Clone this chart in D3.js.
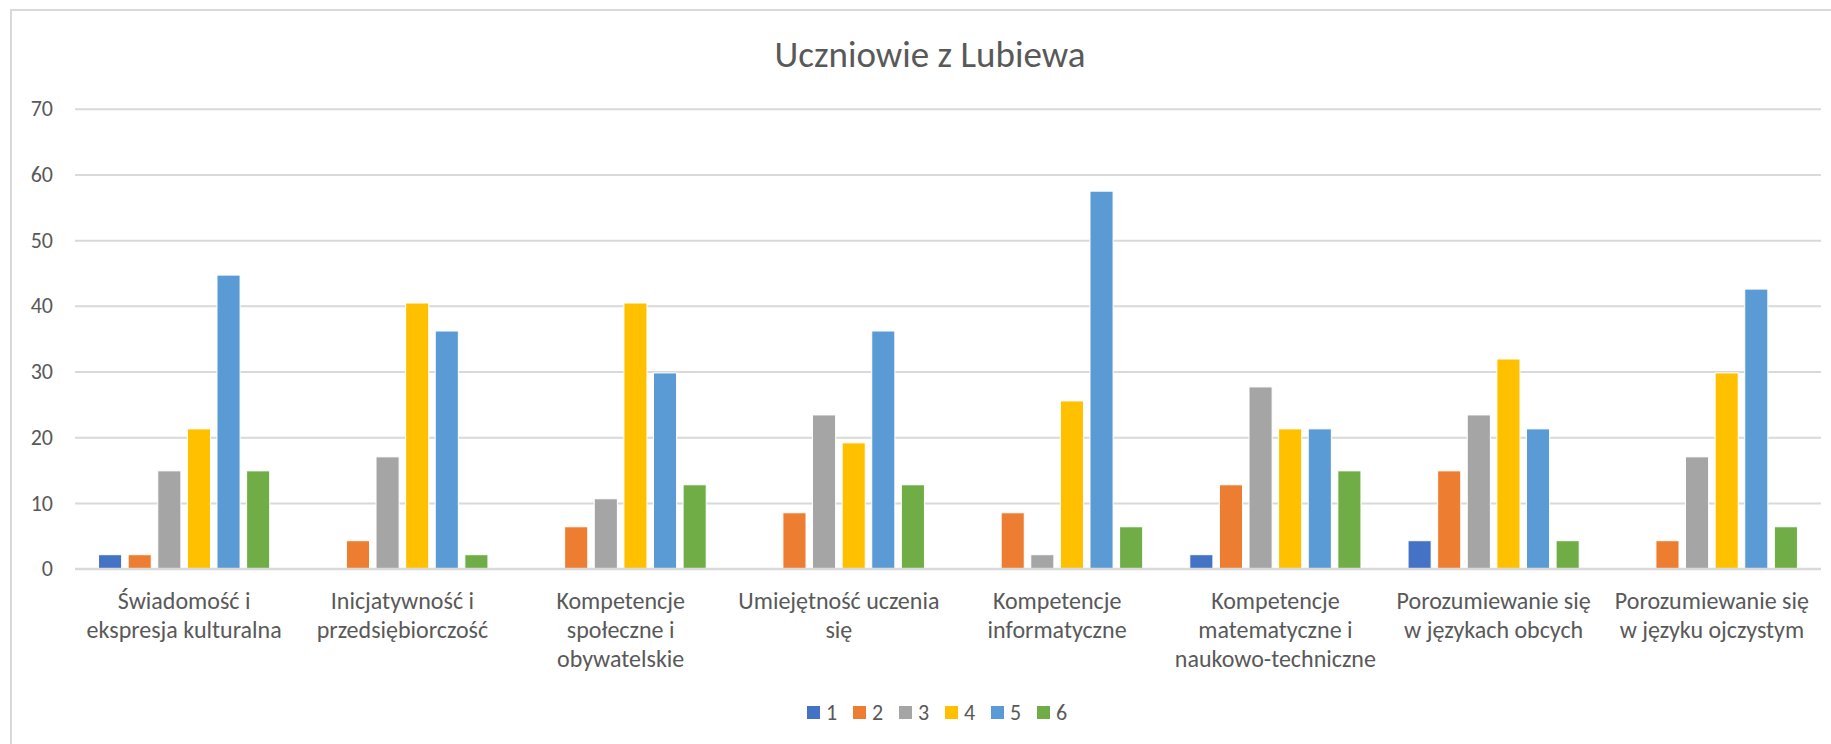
<!DOCTYPE html>
<html>
<head>
<meta charset="utf-8">
<script src="https://cdn.jsdelivr.net/npm/d3@7/dist/d3.min.js"></script>
<style>
  html, body { margin: 0; padding: 0; background: #ffffff; }
  svg { display: block; }
  text { font-family: Carlito, Lato, "Open Sans", sans-serif; fill: #595959; }
</style>
</head>
<body>
<svg id="chart" width="1831" height="744"></svg>
<script>
// ---- data ----
const title = "Uczniowie z Lubiewa";
const categoryLines = [
  ["Świadomość i", "ekspresja kulturalna"],
  ["Inicjatywność i", "przedsiębiorczość"],
  ["Kompetencje", "społeczne i", "obywatelskie"],
  ["Umiejętność uczenia", "się"],
  ["Kompetencje", "informatyczne"],
  ["Kompetencje", "matematyczne i", "naukowo-techniczne"],
  ["Porozumiewanie się", "w językach obcych"],
  ["Porozumiewanie się", "w języku ojczystym"]
];
const categories = categoryLines.map(l => l.join(" "));
const seriesNames = ["1", "2", "3", "4", "5", "6"];
const seriesColors = ["#4472C4", "#ED7D31", "#A5A5A5", "#FFC000", "#5B9BD5", "#70AD47"];
const s1 = [2.13, 0, 0, 0, 0, 2.13, 4.26, 0];
const s2 = [2.13, 4.26, 6.38, 8.51, 8.51, 12.77, 14.89, 4.26];
const s3 = [14.89, 17.02, 10.64, 23.40, 2.13, 27.66, 23.40, 17.02];
const s4 = [21.28, 40.43, 40.43, 19.15, 25.53, 21.28, 31.91, 29.79];
const s5 = [44.68, 36.17, 29.79, 36.17, 57.45, 21.28, 21.28, 42.55];
const s6 = [14.89, 2.13, 12.77, 12.77, 6.38, 14.89, 4.26, 6.38];
const seriesValues = [s1, s2, s3, s4, s5, s6];
const yTicks = [0, 10, 20, 30, 40, 50, 60, 70];

// ---- layout ----
const svg = d3.select("#chart");
const W = 1831, H = 744;
const plot = { left: 75, right: 1821, top: 108.7, bottom: 568.7 };

svg.append("rect").attr("x", 0).attr("y", 0).attr("width", W).attr("height", H).attr("fill", "#fff");
// chart area border (right/bottom edges fall outside the frame)
svg.append("rect")
  .attr("x", 11).attr("y", 10).attr("width", W + 20).attr("height", H + 20)
  .attr("fill", "none").attr("stroke", "#d9d9d9").attr("stroke-width", 2);

// title
svg.append("text")
  .attr("x", 930).attr("y", 67)
  .attr("text-anchor", "middle")
  .style("font-size", "37px")
  .style("font-weight", "300")
  .text(title);

// scales
const y = d3.scaleLinear().domain([0, 70]).range([plot.bottom, plot.top]);
const x0 = d3.scaleBand().domain(categories).range([plot.left, plot.right])
  .paddingInner(0.186).paddingOuter(0.093);
const x1 = d3.scaleBand().domain(seriesNames).range([0, x0.bandwidth()])
  .paddingInner(0.22).paddingOuter(0.11);
const color = d3.scaleOrdinal().domain(seriesNames).range(seriesColors);

// gridlines + y axis labels
const yAxis = d3.axisLeft(y).tickValues(yTicks).tickSize(-(plot.right - plot.left)).tickPadding(22).tickFormat(d3.format("d"));
const gy = svg.append("g").attr("transform", `translate(${plot.left},0)`).call(yAxis);
gy.select(".domain").remove();
gy.selectAll(".tick line").attr("stroke", "#d9d9d9").attr("stroke-width", 2);
gy.selectAll(".tick text").style("font-size", "22px").attr("fill", "#595959");

// bars
const table = categories.map((c, i) => ({ cat: c, vals: seriesNames.map((s, j) => ({ s, v: seriesValues[j][i] })) }));
const groups = svg.append("g").selectAll("g").data(table).join("g")
  .attr("transform", d => `translate(${x0(d.cat)},0)`);
groups.selectAll("rect").data(d => d.vals.filter(v => v.v > 0)).join("rect")
  .attr("x", d => x1(d.s))
  .attr("width", x1.bandwidth())
  .attr("y", d => y(d.v))
  .attr("height", d => y(0) - y(d.v))
  .attr("fill", d => color(d.s))
  .attr("stroke", "#ffffff").attr("stroke-width", 1);

// x axis line
svg.append("line")
  .attr("x1", plot.left).attr("x2", plot.right)
  .attr("y1", y(0)).attr("y2", y(0))
  .attr("stroke", "#d9d9d9").attr("stroke-width", 2);

// category labels
const xAxis = d3.axisBottom(x0).tickSize(0).tickFormat(() => "");
const gx = svg.append("g").attr("transform", `translate(0,${y(0)})`).call(xAxis);
gx.select(".domain").remove();
gx.selectAll(".tick").each(function(d, i) {
  const t = d3.select(this).append("text")
    .attr("text-anchor", "middle")
    .style("font-size", "24px")
    .attr("fill", "#595959");
  categoryLines[i].forEach((line, k) => {
    t.append("tspan").attr("x", 0).attr("y", 40 + k * 29).text(line);
  });
});

// legend
const lx = d3.scalePoint().domain(seriesNames).range([807, 807 + 5 * 46]);
const leg = svg.append("g").selectAll("g").data(seriesNames).join("g")
  .attr("transform", d => `translate(${lx(d)},706)`);
leg.append("rect").attr("width", 13).attr("height", 13).attr("fill", d => color(d));
leg.append("text").attr("x", 19).attr("y", 13.5).style("font-size", "22px").text(d => d);
</script>
</body>
</html>
